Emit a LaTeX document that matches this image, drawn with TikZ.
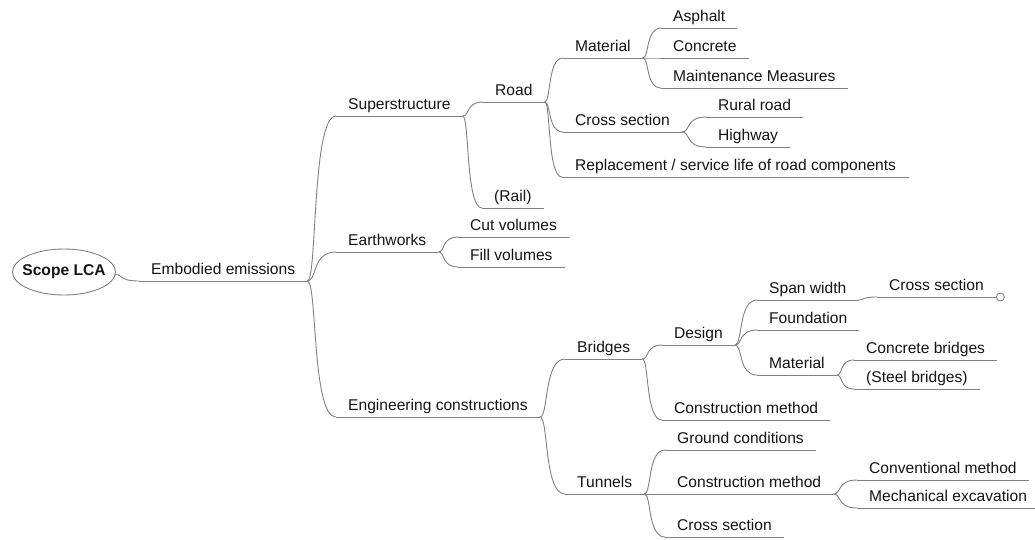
\documentclass[tikz,border=0pt]{standalone}
\usepackage{fontspec}
\setmainfont{Liberation Sans}
\usetikzlibrary{calc,shapes.geometric}
\definecolor{linegray}{RGB}{128,128,128}
\definecolor{txt}{RGB}{20,20,20}
\begin{document}
\begin{tikzpicture}[x=1pt,y=-1pt,
  topic/.style={anchor=south west, inner xsep=12pt, inner ysep=6pt, text depth=0pt,
    font=\fontsize{15.6}{18}\selectfont, text=txt},
  uline/.style={draw=linegray, line width=0.9pt},
  conn/.style={draw=linegray, line width=0.9pt,
    to path={let \p1=(\tikztostart), \p2=(\tikztotarget) in
      .. controls ({\x1+0.35*(\x2-\x1)},\y1) and ({\x1+0.15*(\x2-\x1)},\y2) .. (\tikztotarget)}},
  rootnode/.style={inner sep=0pt, minimum width=103pt, minimum height=46pt,
    font=\bfseries\fontsize{15.6}{18}\selectfont, text=txt}
]
\useasboundingbox (0,0) rectangle (1035,539);

\node[rootnode] (root) at (64,272) {Scope LCA};
\draw[uline] (root.center) ellipse [x radius=51.5, y radius=23];
\coordinate (rootE) at (115,274.5);

\node[topic] (emb) at (139,281) {Embodied emissions};
\node[topic] (sup) at (336,116) {Superstructure};
\node[topic] (road) at (483,102) {Road};
\node[topic] (rail) at (482,208) {(Rail)};
\node[topic] (mat) at (563,58) {Material};
\node[topic] (asph) at (661,28) {Asphalt};
\node[topic] (conc) at (661,58) {Concrete};
\node[topic] (maint) at (661,88) {Maintenance Measures};
\node[topic] (csa) at (563,132) {Cross section};
\node[topic] (rural) at (706,117) {Rural road};
\node[topic] (hwy) at (706,147) {Highway};
\node[topic, inner xsep=13pt] (repl) at (562,177) {Replacement / service life of road components};
\node[topic] (earth) at (336,252) {Earthworks};
\node[topic] (cut) at (458,237) {Cut volumes};
\node[topic] (fill) at (458,267) {Fill volumes};
\node[topic] (eng) at (336,417) {Engineering constructions};
\node[topic] (brid) at (565,359) {Bridges};
\node[topic] (design) at (662,345) {Design};
\node[topic] (span) at (757,300) {Span width};
\node[topic] (csb) at (877,297) {Cross section};
\node[circle, draw=linegray, line width=0.9pt, fill=white, inner sep=0pt,
  minimum size=8pt, anchor=west] (csbend) at (csb.south east) {};
\node[topic] (found) at (757,330) {Foundation};
\node[topic] (matb) at (757,375) {Material};
\node[topic] (concb) at (854,360) {Concrete bridges};
\node[topic] (steel) at (854,389) {(Steel bridges)};
\node[topic] (consb) at (662,420) {Construction method};
\node[topic] (tun) at (565,494) {Tunnels};
\node[topic] (ground) at (665,450) {Ground conditions};
\node[topic] (const) at (665,494) {Construction method};
\node[topic] (conv) at (857,480) {Conventional method};
\node[topic] (mech) at (857,508) {Mechanical excavation};
\node[topic] (csc) at (665,537) {Cross section};

\foreach \n in {emb,sup,road,rail,mat,asph,conc,maint,csa,rural,hwy,repl,earth,cut,fill,
  eng,brid,design,span,csb,found,matb,concb,steel,consb,tun,ground,const,conv,mech,csc}
  \draw[uline] (\n.south west) -- (\n.south east);

\draw[conn] (rootE) to (emb.south west);
\draw[conn] (emb.south east) to (sup.south west);
\draw[conn] (emb.south east) to (earth.south west);
\draw[conn] (emb.south east) to (eng.south west);
\draw[conn] (sup.south east) to (road.south west);
\draw[conn] (sup.south east) to (rail.south west);
\draw[conn] (road.south east) to (mat.south west);
\draw[conn] (road.south east) to (csa.south west);
\draw[conn] (road.south east) to (repl.south west);
\draw[conn] (mat.south east) to (asph.south west);
\draw[conn] (mat.south east) to (conc.south west);
\draw[conn] (mat.south east) to (maint.south west);
\draw[conn] (csa.south east) to (rural.south west);
\draw[conn] (csa.south east) to (hwy.south west);
\draw[conn] (earth.south east) to (cut.south west);
\draw[conn] (earth.south east) to (fill.south west);
\draw[conn] (eng.south east) to (brid.south west);
\draw[conn] (eng.south east) to (tun.south west);
\draw[conn] (brid.south east) to (design.south west);
\draw[conn] (brid.south east) to (consb.south west);
\draw[conn] (design.south east) to (span.south west);
\draw[conn] (design.south east) to (found.south west);
\draw[conn] (design.south east) to (matb.south west);
\draw[conn] (span.south east) to (csb.south west);
\draw[conn] (matb.south east) to (concb.south west);
\draw[conn] (matb.south east) to (steel.south west);
\draw[conn] (tun.south east) to (ground.south west);
\draw[conn] (tun.south east) to (const.south west);
\draw[conn] (tun.south east) to (csc.south west);
\draw[conn] (const.south east) to (conv.south west);
\draw[conn] (const.south east) to (mech.south west);
\end{tikzpicture}
\end{document}
